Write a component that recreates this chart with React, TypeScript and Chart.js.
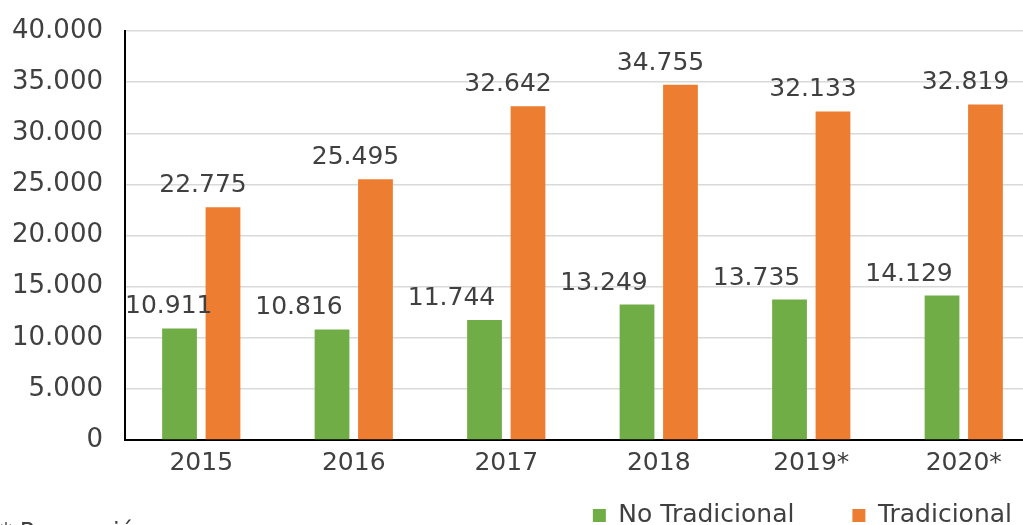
import React, { useEffect, useRef } from "react";
import { Chart, registerables } from "chart.js";

Chart.register(...registerables);

const categories = ["2015", "2016", "2017", "2018", "2019*", "2020*"];
const noTradicional = [10911, 10816, 11744, 13249, 13735, 14129];
const tradicional = [22775, 25495, 32642, 34755, 32133, 32819];
const yTicks = [0, 5000, 10000, 15000, 20000, 25000, 30000, 35000, 40000];

const GREEN = "#70AD47";
const ORANGE = "#ED7D31";
const TEXT = "#404040";
const FONT = "'DejaVu Sans', sans-serif";
const FS = 25;

const fmt = (n: number) =>
  String(n).replace(/\B(?=(\d{3})+(?!\d))/g, ".");

const labelOffsets = [-33, -20];

const dataLabels = {
  id: "dataLabels",
  afterDatasetsDraw(chart: any) {
    const ctx = chart.ctx;
    ctx.save();
    ctx.font = `${FS}px ${FONT}`;
    ctx.fillStyle = TEXT;
    ctx.textAlign = "center";
    ctx.textBaseline = "alphabetic";
    chart.data.datasets.forEach((ds: any, di: number) => {
      const meta = chart.getDatasetMeta(di);
      meta.data.forEach((bar: any, i: number) => {
        let x = bar.x + labelOffsets[di];
        const w = ctx.measureText(fmt(ds.data[i])).width;
        x = Math.max(x, chart.chartArea.left + w / 2);
        ctx.fillText(fmt(ds.data[i]), x, bar.y - 15);
      });
    });
    ctx.restore();
  },
};

const legendShift = {
  id: "legendShift",
  afterLayout(chart: any) {
    const lg = chart.legend;
    if (!lg) return;
    const dy = -41;
    const dx = 30;
    lg.top += dy;
    lg.bottom += dy;
    lg.left += dx;
    lg.right += dx;
  },
};

export default function App() {
  const ref = useRef<HTMLCanvasElement>(null);
  useEffect(() => {
    if (!ref.current) return;
    const chart = new Chart(ref.current, {
      type: "bar",
      data: {
        labels: categories,
        datasets: [
          { label: "No Tradicional", data: noTradicional, backgroundColor: GREEN },
          { label: "Tradicional", data: tradicional, backgroundColor: ORANGE },
        ],
      },
      options: {
        responsive: false,
        animation: false,
        layout: { padding: { top: 31, left: 0, right: 0, bottom: 0 } },
        datasets: { bar: { categoryPercentage: 0.57, barPercentage: 0.8 } },
        scales: {
          x: {
            grid: { display: false, drawTicks: false },
            border: { color: "#000", width: 2 },
            ticks: { color: TEXT, font: { family: FONT, size: FS }, padding: 8 },
          },
          y: {
            min: 0,
            max: 40000,
            afterFit: (s: any) => {
              s.width = 125;
              s.paddingTop = 0;
              s.paddingBottom = 0;
            },
            afterBuildTicks: (s: any) => {
              s.ticks = yTicks.map((v) => ({ value: v }));
            },
            grid: { color: "#D9D9D9", lineWidth: 1.5, drawTicks: false },
            border: { color: "#000", width: 2 },
            ticks: {
              color: TEXT,
              font: { family: FONT, size: 26 },
              padding: 22,
              callback: (v: any) => fmt(Number(v)),
            },
          },
        },
        plugins: {
          legend: {
            position: "bottom",
            align: "end",
            labels: {
              color: TEXT,
              font: { family: FONT, size: FS },
              boxWidth: 13,
              boxHeight: 13,
              padding: 58,
            },
          },
          tooltip: { enabled: false },
        },
      },
      plugins: [dataLabels, legendShift],
    });
    return () => chart.destroy();
  }, []);
  return (
    <div style={{ position: "fixed", left: 0, top: 0, width: 1023, height: 525, overflow: "hidden", background: "#fff" }}>
      <canvas ref={ref} width={1040} height={579} style={{ position: "absolute", left: 0, top: 0 }} />
      <div
        style={{
          position: "absolute",
          left: 0,
          top: 518,
          fontFamily: FONT,
          fontSize: 24,
          color: TEXT,
          whiteSpace: "nowrap",
        }}
      >
        * Proyección
      </div>
    </div>
  );
}
